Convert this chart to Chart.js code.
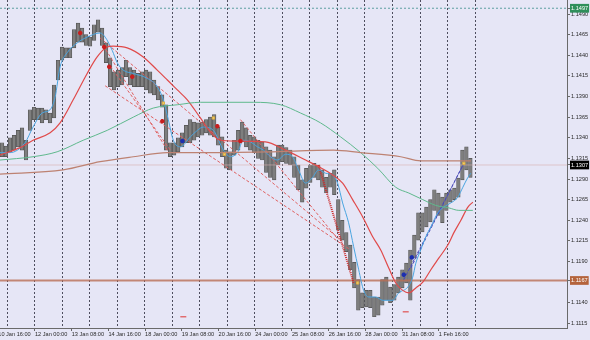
<!DOCTYPE html>
<html>
<head>
<meta charset="utf-8">
<script src="https://cdn.jsdelivr.net/npm/chart.js@4.4.1/dist/chart.umd.min.js"></script>
<style>
  html, body { margin: 0; padding: 0; background: #e6e6f6; }
  #wrap { width: 590px; height: 340px; }
</style>
</head>
<body>
<div id="wrap"><canvas id="chart" width="590" height="340"></canvas></div>
<script>
// time axis is in H1 bars from the left edge of the window
const timeLabels = ['10 Jan 16:00', '12 Jan 00:00', '13 Jan 08:00', '14 Jan 16:00', '18 Jan 00:00', '19 Jan 08:00',
  '20 Jan 16:00', '24 Jan 00:00', '25 Jan 08:00', '26 Jan 16:00', '28 Jan 00:00', '31 Jan 08:00', '1 Feb 16:00'];
const priceTicks = [1.1115, 1.1140, 1.1190, 1.1215, 1.1240, 1.1265, 1.1290, 1.1315, 1.1340, 1.1365, 1.1390,
  1.1415, 1.1440, 1.1465, 1.1490];
const levelValues = [1.1497, 1.1307, 1.1167]; // high line, current price, support line

// price range, one entry every ~3.5 bars
const priceHigh = [
  1.1334, 1.1330, 1.1340, 1.1343, 1.1349, 1.1352, 1.1337, 1.1374, 1.1377, 1.1376,
  1.1376, 1.1374, 1.1370, 1.1404, 1.1434, 1.1450, 1.1449, 1.1449, 1.1471, 1.1479,
  1.1473, 1.1465, 1.1462, 1.1477, 1.1483, 1.1473, 1.1455, 1.1437, 1.1420, 1.1422,
  1.1425, 1.1434, 1.1425, 1.1422, 1.1418, 1.1420, 1.1422, 1.1420, 1.1410, 1.1402,
  1.1392, 1.1380, 1.1334, 1.1334, 1.1340, 1.1346, 1.1355, 1.1362, 1.1359, 1.1358,
  1.1359, 1.1362, 1.1365, 1.1368, 1.1353, 1.1341, 1.1325, 1.1323, 1.1337, 1.1349,
  1.1359, 1.1352, 1.1343, 1.1341, 1.1337, 1.1335, 1.1329, 1.1325, 1.1317, 1.1331,
  1.1331, 1.1328, 1.1325, 1.1317, 1.1307, 1.1289, 1.1303, 1.1307, 1.1309, 1.1307,
  1.1301, 1.1292, 1.1297, 1.1301, 1.1265, 1.1240, 1.1225, 1.1210, 1.1189, 1.1168,
  1.1152, 1.1155, 1.1155, 1.1147, 1.1147, 1.1168, 1.1171, 1.1159, 1.1162, 1.1171,
  1.1180, 1.1188, 1.1204, 1.1222, 1.1249, 1.1249, 1.1256, 1.1265, 1.1277, 1.1273,
  1.1268, 1.1273, 1.1277, 1.1279, 1.1291, 1.1325, 1.1329, 1.1315];
const priceLow = [
  1.1317, 1.1317, 1.1323, 1.1325, 1.1329, 1.1325, 1.1313, 1.1349, 1.1362, 1.1362,
  1.1358, 1.1362, 1.1358, 1.1364, 1.1410, 1.1434, 1.1437, 1.1437, 1.1449, 1.1456,
  1.1456, 1.1452, 1.1451, 1.1458, 1.1468, 1.1452, 1.1431, 1.1402, 1.1398, 1.1402,
  1.1404, 1.1414, 1.1404, 1.1402, 1.1402, 1.1402, 1.1398, 1.1394, 1.1392, 1.1386,
  1.1377, 1.1325, 1.1317, 1.1319, 1.1323, 1.1329, 1.1334, 1.1334, 1.1337, 1.1341,
  1.1343, 1.1346, 1.1343, 1.1341, 1.1331, 1.1317, 1.1303, 1.1301, 1.1319, 1.1325,
  1.1335, 1.1329, 1.1325, 1.1322, 1.1315, 1.1313, 1.1298, 1.1292, 1.1289, 1.1307,
  1.1311, 1.1309, 1.1307, 1.1292, 1.1277, 1.1262, 1.1279, 1.1286, 1.1292, 1.1289,
  1.1280, 1.1273, 1.1280, 1.1271, 1.1228, 1.1216, 1.1202, 1.1180, 1.1158, 1.1131,
  1.1134, 1.1135, 1.1134, 1.1123, 1.1125, 1.1137, 1.1143, 1.1140, 1.1143, 1.1152,
  1.1158, 1.1164, 1.1143, 1.1194, 1.1216, 1.1226, 1.1232, 1.1238, 1.1252, 1.1246,
  1.1237, 1.1252, 1.1262, 1.1265, 1.1268, 1.1289, 1.1301, 1.1292];

// moving averages (bar, price)
const fastMaTime = [0, 8.7, 21.8, 28.8, 36.7, 43.7, 48.0, 52.4, 58.5, 67.3, 76.0, 87.3, 91.7, 97.8, 102.2,
  107.4, 116.2, 128.4, 137.1, 142.4, 146.7, 151.1, 157.2, 165.9, 172.1, 177.3, 186.0, 194.8, 200.9, 207.0,
  212.2, 218.3, 224.5, 229.7, 235.8, 241.9, 248.9, 255.0, 260.3, 266.4, 272.5, 277.7, 283.9, 290.0, 294.3,
  298.7, 303.9, 308.3, 312.7, 317.0, 321.4, 327.5, 333.6, 342.4, 347.6, 355.5, 359.8, 362.5, 366.8, 371.2,
  375.6, 381.7, 386.9, 393.0, 399.1, 403.5, 407.9, 410.5];
const fastMa = [1.1322, 1.1322, 1.1334, 1.1353, 1.1370, 1.1374, 1.1389, 1.1426, 1.1443, 1.1455, 1.1462, 1.1467,
  1.1462, 1.1446, 1.1431, 1.1422, 1.1418, 1.1412, 1.1402, 1.1386, 1.1362, 1.1337, 1.1329, 1.1341, 1.1349,
  1.1353, 1.1349, 1.1325, 1.1317, 1.1322, 1.1337, 1.1335, 1.1329, 1.1325, 1.1317, 1.1313, 1.1320, 1.1317,
  1.1301, 1.1285, 1.1292, 1.1301, 1.1297, 1.1295, 1.1285, 1.1261, 1.1237, 1.1208, 1.1180, 1.1155, 1.1147,
  1.1147, 1.1143, 1.1143, 1.1152, 1.1159, 1.1171, 1.1188, 1.1204, 1.1220, 1.1232, 1.1249, 1.1256, 1.1261,
  1.1268, 1.1280, 1.1292, 1.1297];
const slowMaTime = [0, 17.5, 28.8, 43.7, 52.4, 63.8, 76.0, 84.7, 93.5, 98.7, 110.9, 124.9, 137.1, 145.9, 154.6,
  163.3, 174.7, 183.4, 192.1, 205.2, 231.4, 248.9, 266.4, 277.7, 290.0, 298.7, 307.4, 316.2, 324.9, 331.9,
  338.9, 345.0, 351.1, 356.4, 362.5, 368.6, 375.6, 382.5, 390.4, 395.7, 401.8, 407.9, 412.2];
const slowMa = [1.1319, 1.1328, 1.1337, 1.1346, 1.1358, 1.1386, 1.1418, 1.1438, 1.1450, 1.1451, 1.1449, 1.1438,
  1.1422, 1.1410, 1.1398, 1.1386, 1.1364, 1.1347, 1.1337, 1.1336, 1.1335, 1.1325, 1.1313, 1.1305, 1.1295,
  1.1285, 1.1265, 1.1244, 1.1220, 1.1204, 1.1182, 1.1164, 1.1155, 1.1152, 1.1158, 1.1165, 1.1180, 1.1194,
  1.1210, 1.1225, 1.1240, 1.1256, 1.1262];
const midMaTime = [0, 28.8, 49.8, 72.5, 93.5, 116.2, 133.6, 154.6, 174.7, 198.3, 221.0, 244.6, 262.0, 279.5,
  297.0, 314.4, 329.3, 345.0, 356.4, 368.6, 379.9, 391.3, 400.0, 412.2];
const midMa = [1.1313, 1.1317, 1.1323, 1.1337, 1.1349, 1.1365, 1.1376, 1.1380, 1.1383, 1.1383, 1.1383, 1.1380,
  1.1370, 1.1358, 1.1341, 1.1322, 1.1303, 1.1280, 1.1273, 1.1265, 1.1258, 1.1255, 1.1252, 1.1252];
const longMaTime = [0, 55.0, 87.3, 116.2, 145.9, 174.7, 233.2, 290.8, 314.4, 349.4, 366.8, 410.5];
const longMa = [1.1296, 1.1301, 1.1311, 1.1317, 1.1322, 1.1322, 1.1323, 1.1325, 1.1322, 1.1317, 1.1312, 1.1312];

// trend lines: [bar1, price1, bar2, price2]
const redTrends = [
  [87.3, 1.1461, 297.0, 1.1216],
  [91.7, 1.1403, 305.7, 1.1204],
  [90.0, 1.1452, 146.7, 1.1323],
  [96.1, 1.1427, 148.5, 1.1325],
  [209.6, 1.1362, 295.2, 1.1216]
];
const redSteep = [277.7, 1.1307, 308.3, 1.1164];
const blueTrends = [
  [352.0, 1.1168, 404.4, 1.1309],
  [358.1, 1.1182, 404.4, 1.1309]
];

// signal markers
const redMarkTime = [69.9, 90.8, 95.2, 115.3, 141.5, 189.5, 209.6];
const redMarkPrice = [1.1467, 1.1450, 1.1426, 1.1414, 1.1360, 1.1354, 1.1336];
const blueMarkTime = [159.0, 352.0, 359.0];
const blueMarkPrice = [1.1336, 1.1174, 1.1195];
const yellowMarkTime = [142.4, 186.0, 195.6, 311.8, 404.4];
const yellowMarkPrice = [1.1382, 1.1364, 1.1320, 1.1164, 1.1309];
const dashMarkTime = [159.8, 353.7];
const dashMarkPrice = [1.1123, 1.1129];

const X_MAX = 494.3;
const BIN_START = 1.75, BIN_STEP = 3.49;
const GRID_START = 6.2, GRID_STEP = 24, GRID_COUNT = 18;
const LABEL_START = -1.5, LABEL_STEP = 32;

const gridTicks = [];
for (let k = 0; k < GRID_COUNT; k++) gridTicks.push(GRID_START + k * GRID_STEP);
const labelTicks = timeLabels.map((t, i) => LABEL_START + i * LABEL_STEP);

const levelStyle = {
  '1.1497': '#2f8f5b',
  '1.1307': '#000000',
  '1.1167': '#b4633c'
};

const FONT = { family: '"Liberation Sans", Arial, sans-serif', size: 5.6 };

const pts = (xs, ys) => xs.map((x, i) => ({ x: x, y: ys[i] }));
const seg = s => [{ x: s[0], y: s[1] }, { x: s[2], y: s[3] }];
const flat = v => [{ x: 0, y: v }, { x: X_MAX, y: v }];

const lineDs = (data, color, width, extra) => Object.assign({
  type: 'line', data: data, borderColor: color, borderWidth: width, pointRadius: 0,
  fill: false, cubicInterpolationMode: 'monotone', order: 2
}, extra || {});

const datasets = [
  {
    type: 'bar',
    data: priceHigh.map((h, i) => ({ x: BIN_START + i * BIN_STEP, y: [priceLow[i], h] })),
    backgroundColor: '#7e7e7e',
    borderColor: '#525252',
    borderWidth: 0.7,
    borderSkipped: false,
    barThickness: 3.6,
    grouped: false,
    order: 10
  },
  lineDs(flat(levelValues[2]), 'rgba(185,110,85,0.8)', 2, { order: 9 }),
  lineDs(flat(levelValues[0]), '#5d9fa0', 1, { borderDash: [2, 2], order: 9 }),
  lineDs(flat(levelValues[1]), 'rgba(215,175,175,0.6)', 1, { order: 9 }),
  lineDs(pts(longMaTime, longMa), '#bd8272', 1.2),
  lineDs(pts(midMaTime, midMa), '#5fb98d', 1),
  lineDs(pts(slowMaTime, slowMa), '#e04a4a', 1.2),
  lineDs(pts(fastMaTime, fastMa), '#4aa5e0', 1),
  ...redTrends.map(s => lineDs(seg(s), '#e06060', 1, { borderDash: [3, 2], order: 3 })),
  lineDs(seg(redSteep), '#cc2b2b', 2, { borderDash: [1, 1], order: 3 }),
  ...blueTrends.map(s => lineDs(seg(s), '#4a4ab8', 1, { borderDash: [3, 2], order: 3 })),
  { type: 'scatter', data: pts(redMarkTime, redMarkPrice), pointStyle: 'star', pointRadius: 2.2,
    borderColor: '#c81e1e', backgroundColor: '#c81e1e', borderWidth: 1.5, order: 1 },
  { type: 'scatter', data: pts(blueMarkTime, blueMarkPrice), pointStyle: 'star', pointRadius: 2.2,
    borderColor: '#1c2fb0', backgroundColor: '#1c2fb0', borderWidth: 1.5, order: 1 },
  { type: 'scatter', data: pts(yellowMarkTime, yellowMarkPrice), pointStyle: 'rect', pointRadius: 1.6,
    borderColor: '#e0b040', backgroundColor: '#f2d27a', borderWidth: 1, order: 1 },
  { type: 'scatter', data: pts(dashMarkTime, dashMarkPrice), pointStyle: 'line', pointRadius: 3,
    borderColor: '#e05050', borderWidth: 1.2, order: 1 }
];

const background = {
  id: 'background',
  beforeDraw(chart) {
    const c = chart.ctx;
    c.save();
    c.fillStyle = '#e6e6f6';
    c.fillRect(0, 0, chart.width, chart.height);
    c.restore();
  }
};

const isGrid = v => gridTicks.some(g => Math.abs(g - v) < 1e-6);
const isLevel = v => levelValues.some(l => Math.abs(l - v) < 1e-7);
const levelColor = v => levelStyle[v.toFixed(4)] || 'rgba(0,0,0,0)';

new Chart(document.getElementById('chart'), {
  type: 'bar',
  data: { datasets: datasets },
  plugins: [background],
  options: {
    responsive: false,
    animation: false,
    layout: { padding: 0, autoPadding: false },
    plugins: { legend: { display: false }, tooltip: { enabled: false } },
    scales: {
      x: {
        type: 'linear',
        min: 0,
        max: X_MAX,
        offset: false,
        afterBuildTicks: s => {
          s.ticks = gridTicks.concat(labelTicks).sort((a, b) => a - b).map(v => ({ value: v }));
        },
        ticks: {
          autoSkip: false,
          maxRotation: 0,
          align: 'start',
          padding: 0,
          font: FONT,
          color: '#2a2a2a',
          callback: v => {
            const i = labelTicks.findIndex(t => Math.abs(t - v) < 1e-6);
            return i >= 0 ? timeLabels[i] : '';
          }
        },
        grid: {
          offset: false,
          lineWidth: 1,
          tickLength: 3,
          color: ctx => (ctx.tick && isGrid(ctx.tick.value)) ? '#4e4e5e' : 'rgba(0,0,0,0)',
          tickColor: ctx => (ctx.tick && isGrid(ctx.tick.value)) ? 'rgba(0,0,0,0)' : '#666'
        },
        border: { display: true, color: '#6a6a6a', width: 1, dash: [2, 2] },
        afterFit: s => { s.height = 12; s.paddingLeft = 0; s.paddingRight = 0; }
      },
      y: {
        type: 'linear',
        position: 'right',
        min: 1.11094,
        max: 1.1507,
        afterBuildTicks: s => {
          s.ticks = priceTicks.concat(levelValues).sort((a, b) => a - b).map(v => ({ value: v }));
        },
        ticks: {
          autoSkip: false,
          padding: 1,
          font: FONT,
          color: ctx => isLevel(ctx.tick.value) ? '#ffffff' : '#2a2a2a',
          showLabelBackdrop: ctx => isLevel(ctx.tick.value),
          backdropColor: ctx => levelColor(ctx.tick.value),
          backdropPadding: { x: 1, y: 1 },
          callback: v => v.toFixed(4)
        },
        grid: { drawOnChartArea: false, tickLength: 3, color: '#6a6a6a' },
        border: { display: true, color: '#6a6a6a', width: 1 },
        afterFit: s => { s.width = 23; s.paddingTop = 0; s.paddingBottom = 0; }
      }
    }
  }
});
</script>
</body>
</html>
